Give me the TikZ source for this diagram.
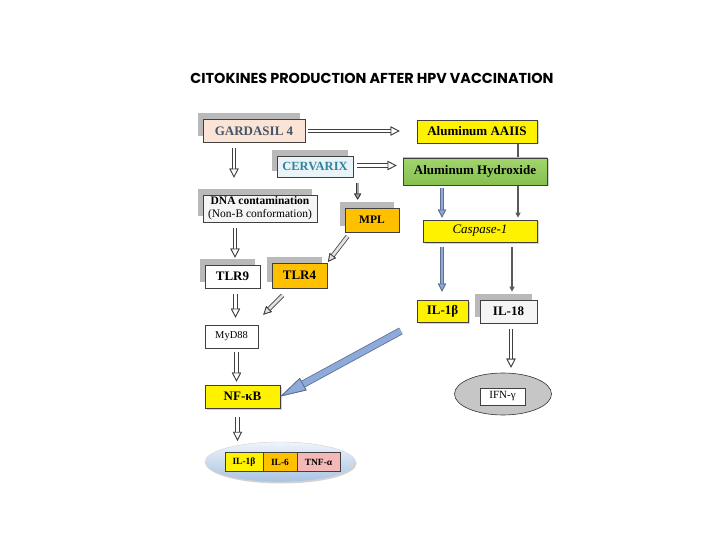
\documentclass[tikz,border=0pt]{standalone}
\usepackage{fontspec}
\setmainfont{Liberation Serif}
\newfontfamily\titlefont{Poppins}
\usetikzlibrary{arrows.meta,shapes.geometric,shadows}
\definecolor{peach}{HTML}{FBE4D5}
\definecolor{gardtxt}{HTML}{44546A}
\definecolor{cervfill}{HTML}{EAF3F8}
\definecolor{cervtxt}{HTML}{31849B}
\definecolor{amber}{HTML}{FFC000}
\definecolor{leaf}{HTML}{86C04F}
\definecolor{leaftop}{HTML}{A2D46E}
\definecolor{rose}{HTML}{F4B8B8}
\definecolor{steel}{HTML}{8EAADB}
\definecolor{steeldark}{HTML}{5F6F8C}
\definecolor{skytop}{HTML}{EEF4FB}
\definecolor{skybot}{HTML}{A9C3E2}

\begin{document}
\begin{tikzpicture}[x=1pt, y=-1pt,
    box/.style={draw=black!75, line width=0.7pt, inner sep=1pt, align=center,
                font=\fontsize{13}{14}\selectfont\bfseries},
    ghost/.style={general shadow={shadow xshift=-5pt, shadow yshift=6pt, fill=gray!55}},
    glow/.style={drop shadow={shadow xshift=1.5pt, shadow yshift=-1.5pt, opacity=0.35}},
    pipe/.style n args={5}{draw=#1, line width=#3,
        -{Triangle[fill=#2, color=#1, length=#4, width=#5, line width=0.8pt]},
        postaction={draw=#2, line width=#3-1.6pt,
        -{Triangle[fill=#2, color=#1, length=#4, width=#5, line width=0.8pt]}}},
    hollow/.style={pipe={gray!50!black}{white}{4.4pt}{9pt}{9pt}},
    hatched/.style={pipe={gray!50!black}{gray!22}{4.4pt}{8pt}{8pt}},
    bluearr/.style={pipe={steeldark}{steel}{4pt}{8pt}{8pt}},
    stub/.style={pipe={gray!40!black}{gray!70}{3.6pt}{6pt}{7pt}},
    bigarr/.style={pipe={steeldark}{steel}{7.5pt}{26pt}{14pt}},
    greyarr/.style={draw=gray!70!black, line width=1.3pt, -{Triangle[length=5pt, width=5pt]}}
]
\useasboundingbox (0,0) rectangle (720,540);

\node[font=\titlefont\bfseries\fontsize{14.4}{16}\selectfont] (title) at (372,78)
    {CITOKINES PRODUCTION AFTER HPV VACCINATION};

\node[box, ghost, fill=peach, text=gardtxt, minimum width=102pt, minimum height=23pt] (gard) at (254,131) {GARDASIL 4};
\node[box, ghost, fill=cervfill, text=cervtxt, minimum width=76pt, minimum height=21pt,
      font=\fontsize{12.5}{14}\selectfont\bfseries] (cerv) at (315,166.5) {CERVARIX};
\node[box, glow, fill=yellow, minimum width=120pt, minimum height=23pt] (aaiis) at (477,131.5) {Aluminum AAIIS};
\node[box, glow, fill=yellow, minimum width=114pt, minimum height=22pt,
      font=\fontsize{13}{14}\selectfont\itshape] (casp) at (480,231) {Caspase-1};
\draw[greyarr, shorten <=1pt, shorten >=2pt] ([xshift=41pt]aaiis.south) -- ([xshift=41pt]aaiis.south |- casp.north);
\node[box, glow, top color=leaftop, bottom color=leaf, minimum width=144pt, minimum height=27pt] (alhyd) at (475,171.5) {Aluminum Hydroxide};

\node[box, ghost, fill=gray!8, minimum width=114pt, minimum height=27pt,
      font=\fontsize{11.5}{13}\selectfont] (dna) at (260,208.5) {\textbf{DNA contamination}\\(Non-B conformation)};
\node[box, ghost, fill=amber, minimum width=54pt, minimum height=24pt,
      font=\fontsize{11.5}{13}\selectfont\bfseries] (mpl) at (372,220) {MPL};
\node[box, ghost, fill=white, minimum width=55pt, minimum height=23pt] (tlr9) at (232.5,276.5) {TLR9};
\node[box, ghost, fill=amber, minimum width=55pt, minimum height=25pt] (tlr4) at (299.5,275.5) {TLR4};
\node[box, fill=white, minimum width=53pt, minimum height=23pt,
      font=\fontsize{10.5}{12}\selectfont] (myd) at (231.5,336.5) {MyD88};
\node[box, glow, fill=yellow, minimum width=75pt, minimum height=23pt] (nfkb) at (242.5,396.5) {NF-κB};

\node[box, glow, fill=yellow, minimum width=51pt, minimum height=22pt] (il1b) at (442.5,311) {IL-1β};
\node[box, ghost, fill=gray!8, minimum width=57pt, minimum height=23pt] (il18) at (508.5,311.5) {IL-18};
\node[ellipse, draw=gray!40!black, line width=0.6pt, fill=gray!45, minimum width=97pt, minimum height=42pt] (ifnell) at (503,394) {};
\node[box, fill=white, minimum width=45pt, minimum height=17pt,
      font=\fontsize{11}{12}\selectfont] (ifn) at (502.5,396.5) {IFN-γ};

\node[ellipse, draw=gray!35, top color=skytop, bottom color=skybot, glow,
      minimum width=150pt, minimum height=40pt] (cytell) at (280,462) {};
\node[box, fill=yellow, minimum width=38pt, minimum height=19pt, font=\fontsize{9.5}{11}\selectfont\bfseries] (c1) at (244,462) {IL-1β};
\node[box, fill=amber, minimum width=34pt, minimum height=19pt, font=\fontsize{9.5}{11}\selectfont\bfseries] (c2) at (280,462) {IL-6};
\node[box, fill=rose, minimum width=43pt, minimum height=19pt, font=\fontsize{9.5}{11}\selectfont\bfseries] (c3) at (318.5,462) {TNF-α};

\draw[hollow, shorten <=3pt, shorten >=17pt] (gard.east) -- (gard.east -| aaiis.west);
\draw[hollow, shorten <=4pt, shorten >=6pt] ([yshift=1pt]cerv.east) -- ([yshift=1pt]cerv.east -| alhyd.west);
\draw[hollow, shorten <=5pt, shorten >=17pt] ([xshift=-20pt]gard.south) -- ([xshift=-20pt]gard.south |- dna.north);
\draw[stub, shorten <=6pt, shorten >=8pt] ([xshift=13pt]mpl.north west |- cerv.south) -- ([xshift=13pt]mpl.north west);
\draw[hollow, shorten <=6pt, shorten >=7pt] ([xshift=-25pt]dna.south) -- ([xshift=-25pt]dna.south |- tlr9.north);
\draw[hatched, shorten <=5pt, shorten >=1pt] ([xshift=6pt]mpl.south west) -- (tlr4.north east);
\draw[hollow, shorten <=6pt, shorten >=7pt] ([xshift=3pt]tlr9.south) -- ([xshift=3pt]tlr9.south |- myd.north);
\draw[hatched] ([xshift=11pt,yshift=-7pt]tlr4.south west) -- ([xshift=5pt,yshift=10pt]myd.north east);
\draw[hollow, shorten <=4pt, shorten >=3pt] ([xshift=5pt]myd.south) -- ([xshift=5pt]myd.south |- nfkb.north);
\draw[hollow, shorten <=9pt, shorten >=1pt] ([xshift=-5pt]nfkb.south) -- ([xshift=-5pt]nfkb.south |- cytell.north);
\draw[bluearr, shorten <=3pt, shorten >=2pt] ([xshift=-33pt]alhyd.south) -- ([xshift=-33pt]alhyd.south |- casp.north);
\draw[bluearr, shorten <=5pt, shorten >=8pt] ([xshift=-38pt]casp.south) -- ([xshift=-38pt]casp.south |- il1b.north);
\draw[greyarr, shorten <=5pt, shorten >=8pt] ([xshift=32pt]casp.south) -- ([xshift=32pt]casp.south |- il18.north);
\draw[hollow, shorten <=6pt, shorten >=5pt] ([xshift=2.5pt]il18.south) -- ([xshift=2.5pt]il18.south |- ifnell.north);
\draw[bigarr, shorten <=18pt] (il1b.south west) -- (nfkb.east);

\end{tikzpicture}
\end{document}
